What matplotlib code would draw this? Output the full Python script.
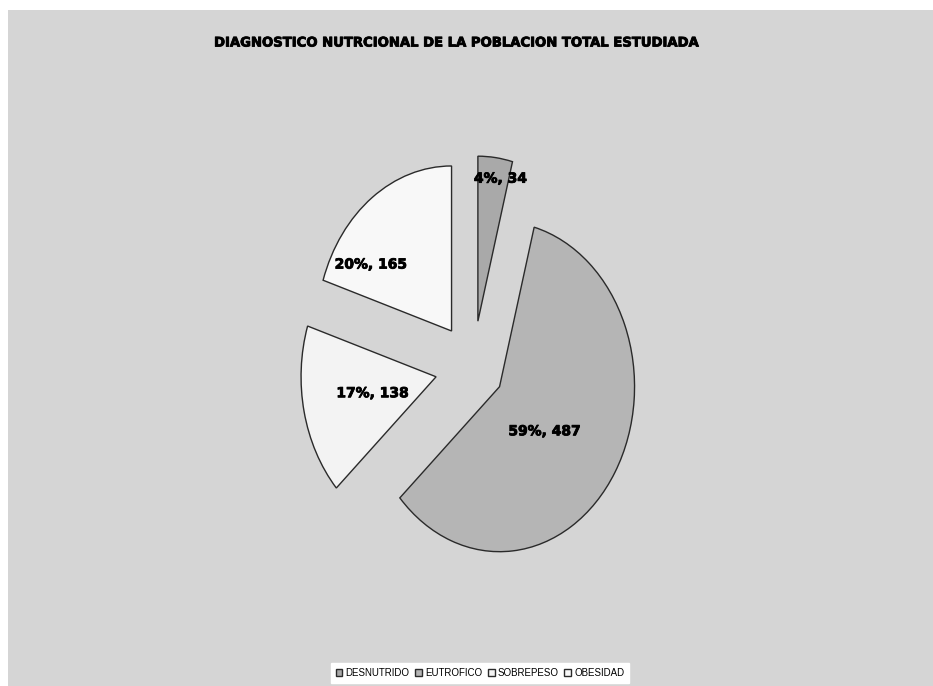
import math
import matplotlib.pyplot as plt
import matplotlib.patheffects as pe
from matplotlib.patches import Rectangle

# Data
categories = ['DESNUTRIDO', 'EUTROFICO', 'SOBREPESO', 'OBESIDAD']
counts = [34, 487, 138, 165]
colors = ['#a9a9a9', '#b5b5b5', '#f3f3f3', '#f8f8f8']
explode = [0.28, 0.23, 0.28, 0.27]

# label placement around each wedge apex: (radius, angle in degrees)
label_pos = [(0.88, 79), (0.43, -39), (0.48, 192), (0.72, 146)]

W, H = 933, 686
fig = plt.figure(figsize=(W / 100, H / 100), dpi=100)
fig.patch.set_facecolor('white')

# textured background area -> flat light gray
bg = Rectangle((8 / W, 0), 1 - 8 / W, 1 - 10 / H, transform=fig.transFigure,
               facecolor='#d5d5d5', edgecolor='none', zorder=-10)
fig.patches.append(bg)

ax = fig.add_axes([0, 0, 1, 1])
ax.set_facecolor('none')

total = sum(counts)

def fmt(p):
    return '{:.0f}%, {}'.format(p, int(round(p * total / 100)))

heavy = [pe.withStroke(linewidth=0.6, foreground='black')]

wedges, texts, autotexts = ax.pie(
    counts, colors=colors, startangle=90, counterclock=False,
    explode=explode, autopct=fmt,
    wedgeprops=dict(edgecolor='#2a2a2a', linewidth=1.0),
    textprops=dict(fontsize=10, fontweight='bold', color='black'))

for w, t, (r, a) in zip(wedges, autotexts, label_pos):
    cx, cy = w.center
    t.set_position((cx + r * math.cos(math.radians(a)),
                    cy + r * math.sin(math.radians(a))))
    t.set_ha('center')
    t.set_va('center')
    t.set_path_effects(heavy)

# elliptical pie like the original (wider in y than x)
sx, sy = 135.0, 165.0
px, py = 473, 367
ax.set_aspect('auto')
ax.set_xlim(-px / sx, (W - px) / sx)
ax.set_ylim(-(H - py) / sy, py / sy)
ax.axis('off')

fig.text(458 / W, 1 - 43 / H,
         'DIAGNOSTICO NUTRCIONAL DE LA POBLACION TOTAL ESTUDIADA',
         ha='center', va='center', fontsize=9.5, fontweight='bold',
         path_effects=heavy)

leg = fig.legend(wedges, categories, loc='center', ncol=4,
                 bbox_to_anchor=(480 / W, 13 / H),
                 fontsize=7, frameon=True, fancybox=False,
                 handlelength=0.7, handleheight=0.7, handletextpad=0.3,
                 columnspacing=0.6, borderpad=0.5, borderaxespad=0)
leg.get_frame().set_facecolor('white')
leg.get_frame().set_edgecolor('white')
leg.get_frame().set_alpha(1)
for txt in leg.get_texts():
    txt.set_family('Liberation Sans')

fig.savefig('out.png', dpi=100)
